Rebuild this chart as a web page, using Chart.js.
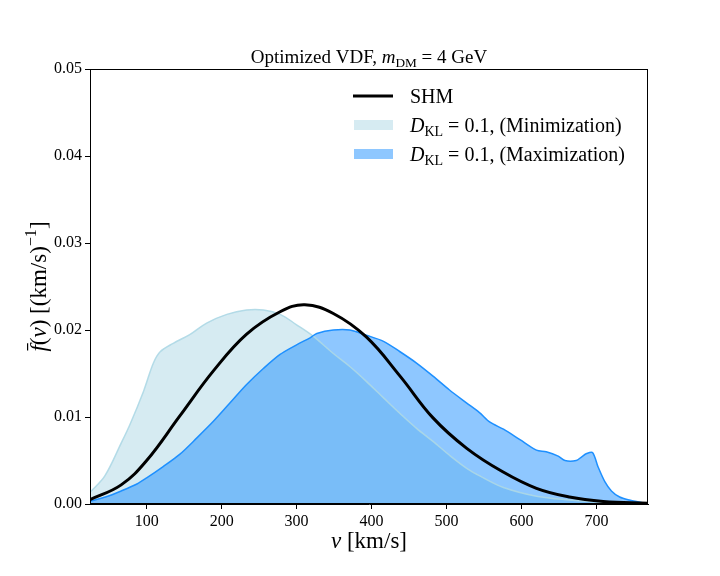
<!DOCTYPE html>
<html>
<head>
<meta charset="utf-8">
<script src="https://cdn.jsdelivr.net/npm/chart.js@4.4.1/dist/chart.umd.min.js"></script>
<style>
  html, body { margin: 0; padding: 0; background: #fff; }
</style>
</head>
<body>
<canvas id="vdf" width="720" height="576"></canvas>
<script>
// speeds (km/s) and f(v)
const vShm = [24.4, 66, 100, 144, 189, 233, 278, 311, 349, 393, 438, 482, 527, 575, 620, 664, 709, 769];
const fShm = [0.0005, 0.0022, 0.0050, 0.0101, 0.0153, 0.0195, 0.0221, 0.0229, 0.0219, 0.0192, 0.0147, 0.0099, 0.0064, 0.0037, 0.0018, 0.0008, 0.0003, 0.00008];

const vMin = [24.4, 44, 66, 78, 96, 109, 118, 136, 158, 180, 207, 233, 256, 278, 300, 322, 349, 371, 393, 416, 438, 460, 482, 504, 527, 545, 576, 620, 664, 700, 740, 769];
const fMin = [0.00135, 0.0032, 0.0070, 0.0092, 0.0130, 0.0162, 0.0175, 0.0185, 0.0195, 0.0208, 0.0218, 0.0223, 0.0223, 0.0218, 0.0206, 0.0193, 0.0173, 0.0158, 0.0141, 0.0122, 0.0104, 0.0087, 0.0072, 0.0056, 0.0041, 0.0032, 0.0019, 0.0009, 0.00046, 0.00023, 0.00008, 0.00003];

const vMax = [24.4, 45, 66, 87, 100, 122, 144, 167, 189, 211, 233, 256, 278, 300, 318, 327, 349, 371, 393, 416, 438, 460, 482, 504, 527, 544, 558, 576, 598, 620, 633, 649, 658, 673, 680, 687, 695, 702, 711, 720, 731, 744, 758, 769];
const fMax = [0.0003, 0.0008, 0.0015, 0.0023, 0.0030, 0.0043, 0.0057, 0.0076, 0.0095, 0.0116, 0.0137, 0.0156, 0.0172, 0.0183, 0.0191, 0.0196, 0.0200, 0.0200, 0.0194, 0.0187, 0.0175, 0.0162, 0.0147, 0.0131, 0.0116, 0.0105, 0.0094, 0.0086, 0.0074, 0.0062, 0.0060, 0.0055, 0.0050, 0.0050, 0.0054, 0.0058, 0.0059, 0.0043, 0.0026, 0.0015, 0.0008, 0.00045, 0.0002, 0.00005];

const xTicks = [100, 200, 300, 400, 500, 600, 700];
const yTicks = [0, 0.01, 0.02, 0.03, 0.04, 0.05];

const SERIF = '"Liberation Serif", "DejaVu Serif", serif';

function pts(xs, ys) {
  return xs.map((x, i) => ({ x: x, y: ys[i] }));
}

// draws a row of text pieces, with italic / subscript / superscript / overbar
function drawRich(ctx, parts, x, y, size, align) {
  const fontFor = p => (p.it ? 'italic ' : '') + ((p.sub || p.sup) ? size * 0.7 : size) + 'px ' + SERIF;
  let w = 0;
  parts.forEach(p => {
    ctx.font = fontFor(p);
    p.w = ctx.measureText(p.t).width;
    w += p.w;
  });
  let cx = align === 'center' ? x - w / 2 : x;
  ctx.textAlign = 'left';
  ctx.textBaseline = 'alphabetic';
  parts.forEach(p => {
    ctx.font = fontFor(p);
    const dy = p.sub ? size * 0.22 : (p.sup ? -size * 0.42 : 0);
    ctx.fillText(p.t, cx, y + dy);
    if (p.bar) {
      ctx.beginPath();
      ctx.lineWidth = 1.2;
      ctx.moveTo(cx + 1, y - size * 0.8);
      ctx.lineTo(cx + p.w + 2, y - size * 0.8);
      ctx.stroke();
    }
    cx += p.w;
  });
}

const decor = {
  id: 'decor',
  afterDraw(chart) {
    const ctx = chart.ctx;
    const a = chart.chartArea;
    ctx.save();
    ctx.strokeStyle = '#000';
    ctx.fillStyle = '#000';
    ctx.lineWidth = 1;
    ctx.strokeRect(a.left + 0.5, a.top + 0.5, a.right - a.left - 1, a.bottom - a.top - 1);

    // title
    drawRich(ctx, [
      { t: 'Optimized VDF, ' }, { t: 'm', it: true }, { t: 'DM', sub: true }, { t: ' = 4 GeV' }
    ], (a.left + a.right) / 2, 63, 19, 'center');

    // x label
    drawRich(ctx, [{ t: 'v', it: true }, { t: ' [km/s]' }], (a.left + a.right) / 2, 548, 23, 'center');

    // y label
    ctx.save();
    ctx.translate(46, (a.top + a.bottom) / 2);
    ctx.rotate(-Math.PI / 2);
    drawRich(ctx, [
      { t: 'f', it: true, bar: true }, { t: '(' }, { t: 'v', it: true }, { t: ') [(km/s)' },
      { t: '\u22121', sup: true }, { t: ']' }
    ], 0, 0, 23, 'center');
    ctx.restore();

    // legend
    const lx = 353, tx = 410;
    ctx.beginPath();
    ctx.lineWidth = 3;
    ctx.moveTo(lx, 96);
    ctx.lineTo(lx + 40, 96);
    ctx.stroke();
    drawRich(ctx, [{ t: 'SHM' }], tx, 103, 20, 'left');

    ctx.fillStyle = 'rgba(173,216,230,0.5)';
    ctx.fillRect(lx + 1, 120, 39, 10);
    ctx.fillStyle = 'rgba(30,144,255,0.5)';
    ctx.fillRect(lx + 1, 149, 39, 10);
    ctx.fillStyle = '#000';
    drawRich(ctx, [{ t: 'D', it: true }, { t: 'KL', sub: true }, { t: ' = 0.1, (Minimization)' }], tx, 132, 20, 'left');
    drawRich(ctx, [{ t: 'D', it: true }, { t: 'KL', sub: true }, { t: ' = 0.1, (Maximization)' }], tx, 161, 20, 'left');
    ctx.restore();
  }
};

const ctx = document.getElementById('vdf').getContext('2d');
const chart = new Chart(ctx, {
  type: 'line',
  data: {
    datasets: [
      {
        label: 'SHM',
        data: pts(vShm, fShm),
        borderColor: '#000',
        borderWidth: 3,
        fill: false,
        pointRadius: 0,
        tension: 0.4,
      },
      {
        label: 'Maximization',
        data: pts(vMax, fMax),
        borderColor: '#1e90ff',
        backgroundColor: 'rgba(30,144,255,0.5)',
        borderWidth: 1.5,
        fill: 'origin',
        pointRadius: 0,
        tension: 0.3,
      },
      {
        label: 'Minimization',
        data: pts(vMin, fMin),
        borderColor: 'rgba(173,216,230,0.9)',
        backgroundColor: 'rgba(173,216,230,0.5)',
        borderWidth: 1.5,
        fill: 'origin',
        pointRadius: 0,
        tension: 0.35,
      },
    ],
  },
  options: {
    responsive: false,
    animation: false,
    layout: { padding: { left: 0, right: 72, top: 69, bottom: 0 } },
    plugins: {
      legend: { display: false },
      tooltip: { enabled: false },
      filler: { drawTime: 'beforeDatasetsDraw' },
    },
    scales: {
      x: {
        type: 'linear',
        min: 24.4,
        max: 768.8,
        afterBuildTicks: s => { s.ticks = xTicks.map(v => ({ value: v })); },
        afterFit: s => { s.height = 72; },
        grid: { drawOnChartArea: false, drawTicks: true, tickLength: 5, color: '#000' },
        border: { display: true, color: '#000' },
        ticks: { color: '#000', padding: 3, maxRotation: 0, font: { family: SERIF, size: 16 } },
      },
      y: {
        min: 0,
        max: 0.05,
        afterBuildTicks: s => { s.ticks = yTicks.map(v => ({ value: v })); },
        afterFit: s => { s.width = 90; },
        grid: { drawOnChartArea: false, drawTicks: true, tickLength: 5, color: '#000' },
        border: { display: true, color: '#000' },
        ticks: { color: '#000', padding: 3, font: { family: SERIF, size: 16 }, callback: v => v.toFixed(2) },
      },
    },
  },
  plugins: [decor],
});
</script>
</body>
</html>
